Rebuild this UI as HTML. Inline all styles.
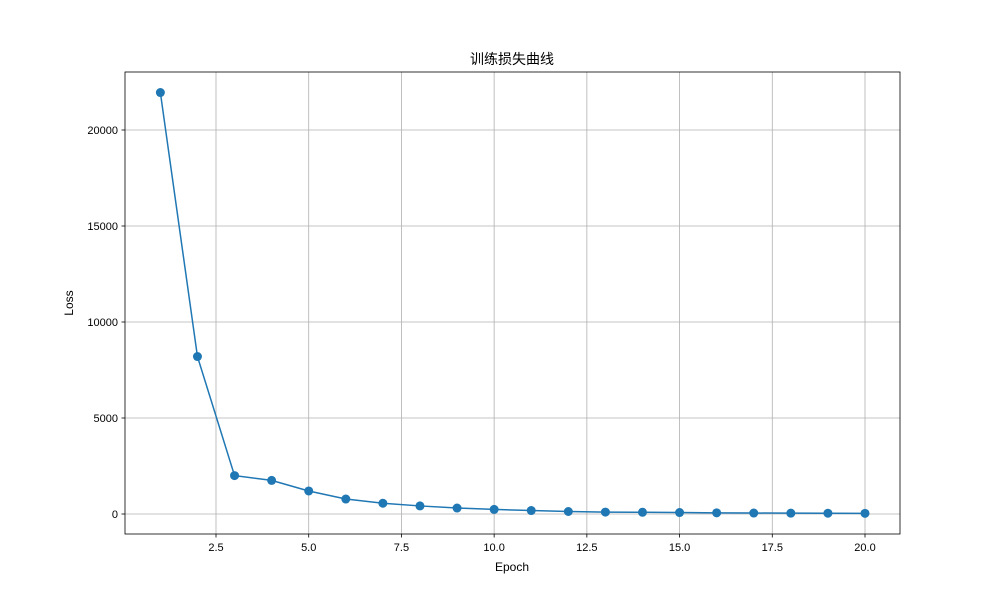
<!DOCTYPE html>
<html><head><meta charset="utf-8"><style>
body{margin:0;background:#fff;}
svg text{font-family:"Liberation Sans","Noto Sans CJK SC",sans-serif;fill:#000;}
</style></head><body>
<svg id="chart" width="1000" height="600" xmlns="http://www.w3.org/2000/svg">
<rect width="1000" height="600" fill="#fff"/>
<g id="grid"></g>
<g id="axes"></g>
<g id="series"></g>
<text x="512" y="64" font-size="14" text-anchor="middle">训练损失曲线</text>
<text x="512" y="571" font-size="12" text-anchor="middle">Epoch</text>
<text x="73" y="303" font-size="12" text-anchor="middle" transform="rotate(-90 73 303)">Loss</text>
</svg>
<script>
const epochs=[1,2,3,4,5,6,7,8,9,10,11,12,13,14,15,16,17,18,19,20];
const losses=[21950,8200,2000,1750,1200,780,560,420,310,240,180,130,100,90,75,60,50,45,40,35];
const xTicks=[2.5,5.0,7.5,10.0,12.5,15.0,17.5,20.0];
const yTicks=[0,5000,10000,15000,20000];
const L=125,R=900,T=72,B=534;
const xs=v=>216+(v-2.5)*(865-216)/17.5;
const ys=v=>514-v*0.0192;
const NS="http://www.w3.org/2000/svg";
function mk(t,a,p){const e=document.createElementNS(NS,t);for(const k in a)e.setAttribute(k,a[k]);p.appendChild(e);return e;}
const grid=document.getElementById('grid'),axes=document.getElementById('axes'),ser=document.getElementById('series');
xTicks.forEach(v=>{const x=xs(v);
const g=mk('line',{x1:x,x2:x,y1:T,y2:B,stroke:'#b0b0b0','stroke-width':0.8},grid);

const t=mk('line',{x1:x,x2:x,y1:B,y2:B+3.5,stroke:'#000','stroke-width':0.8},axes);

const l=mk('text',{x:x,y:B+17,'font-size':11,'text-anchor':'middle'},axes);l.textContent=v.toFixed(1);
});
yTicks.forEach(v=>{const y=ys(v);
const g=mk('line',{x1:L,x2:R,y1:y,y2:y,stroke:'#b0b0b0','stroke-width':0.8},grid);

const t=mk('line',{x1:L-3.5,x2:L,y1:y,y2:y,stroke:'#000','stroke-width':0.8},axes);

const l=mk('text',{x:L-7,y:y+4,'font-size':11,'text-anchor':'end'},axes);l.textContent=v;
});
const fr=mk('rect',{x:L,y:T,width:R-L,height:B-T,fill:'none',stroke:'#000','stroke-width':0.8},axes);

const pl=mk('polyline',{points:epochs.map((e,i)=>xs(e)+','+ys(losses[i])).join(' '),fill:'none',stroke:'#1f77b4','stroke-width':1.5},ser);

epochs.forEach((e,i)=>{const c=mk('circle',{cx:xs(e),cy:ys(losses[i]),r:4.5,fill:'#1f77b4'},ser);
});
</script>
</body></html>
